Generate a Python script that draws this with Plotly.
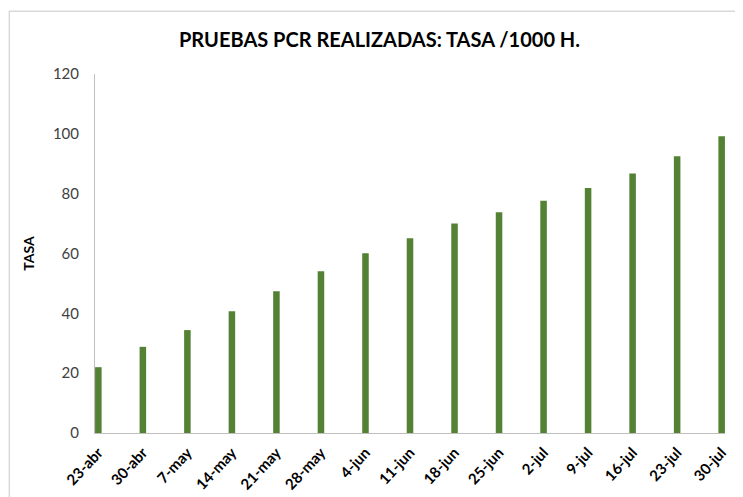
import plotly.graph_objects as go

categories = ["23-abr", "30-abr", "7-may", "14-may", "21-may", "28-may", "4-jun",
              "11-jun", "18-jun", "25-jun", "2-jul", "9-jul", "16-jul", "23-jul", "30-jul"]
tasa = [22.0, 28.8, 34.4, 40.7, 47.4, 54.1, 60.1, 65.1, 70.0, 73.8, 77.6, 81.9, 86.7, 92.5, 99.2]
y_ticks = [0, 20, 40, 60, 80, 100, 120]

fig = go.Figure()
fig.add_trace(go.Bar(
    x=categories, y=tasa, width=0.147,
    marker=dict(color="#548235", line=dict(width=0)),
))

fig.update_layout(
    width=743, height=497,
    margin=dict(l=87, r=26, t=66, b=72),
    paper_bgcolor="white", plot_bgcolor="white",
    showlegend=False,
    font=dict(family="Lato, Open Sans, sans-serif", color="#595959"),
    title=dict(text="<b>PRUEBAS PCR REALIZADAS: TASA /1000 H.</b>",
               x=0.5, xanchor="center", y=0.9356, yanchor="middle",
               font=dict(size=20, color="#000000", family="Lato, sans-serif")),
    xaxis=dict(
        type="category", range=[-0.075, 14.075], automargin=False,
        showline=True, linecolor="#bfbfbf", linewidth=1,
        showgrid=False, ticks="", tickangle=-47,
        ticklabelstandoff=4,
        tickfont=dict(size=15, color="#000000", family="Lato, sans-serif", weight="bold"),
    ),
    yaxis=dict(
        range=[0, 120], tickvals=y_ticks, automargin=False,
        showline=True, linecolor="#bfbfbf", linewidth=1,
        showgrid=False, zeroline=False, ticks="",
        ticklabelstandoff=12,
        tickfont=dict(size=15, color="#404040"),
        title=dict(text="<b>TASA</b>", standoff=14,
                   font=dict(size=14, color="#000000")),
    ),
    shapes=[dict(type="rect", xref="paper", yref="paper",
                 x0=-0.136, x1=2, y0=-1, y1=1.175,
                 line=dict(color="#d9d9d9", width=1.5), fillcolor="rgba(0,0,0,0)",
                 layer="below")],
)

fig.write_html("out.html")
